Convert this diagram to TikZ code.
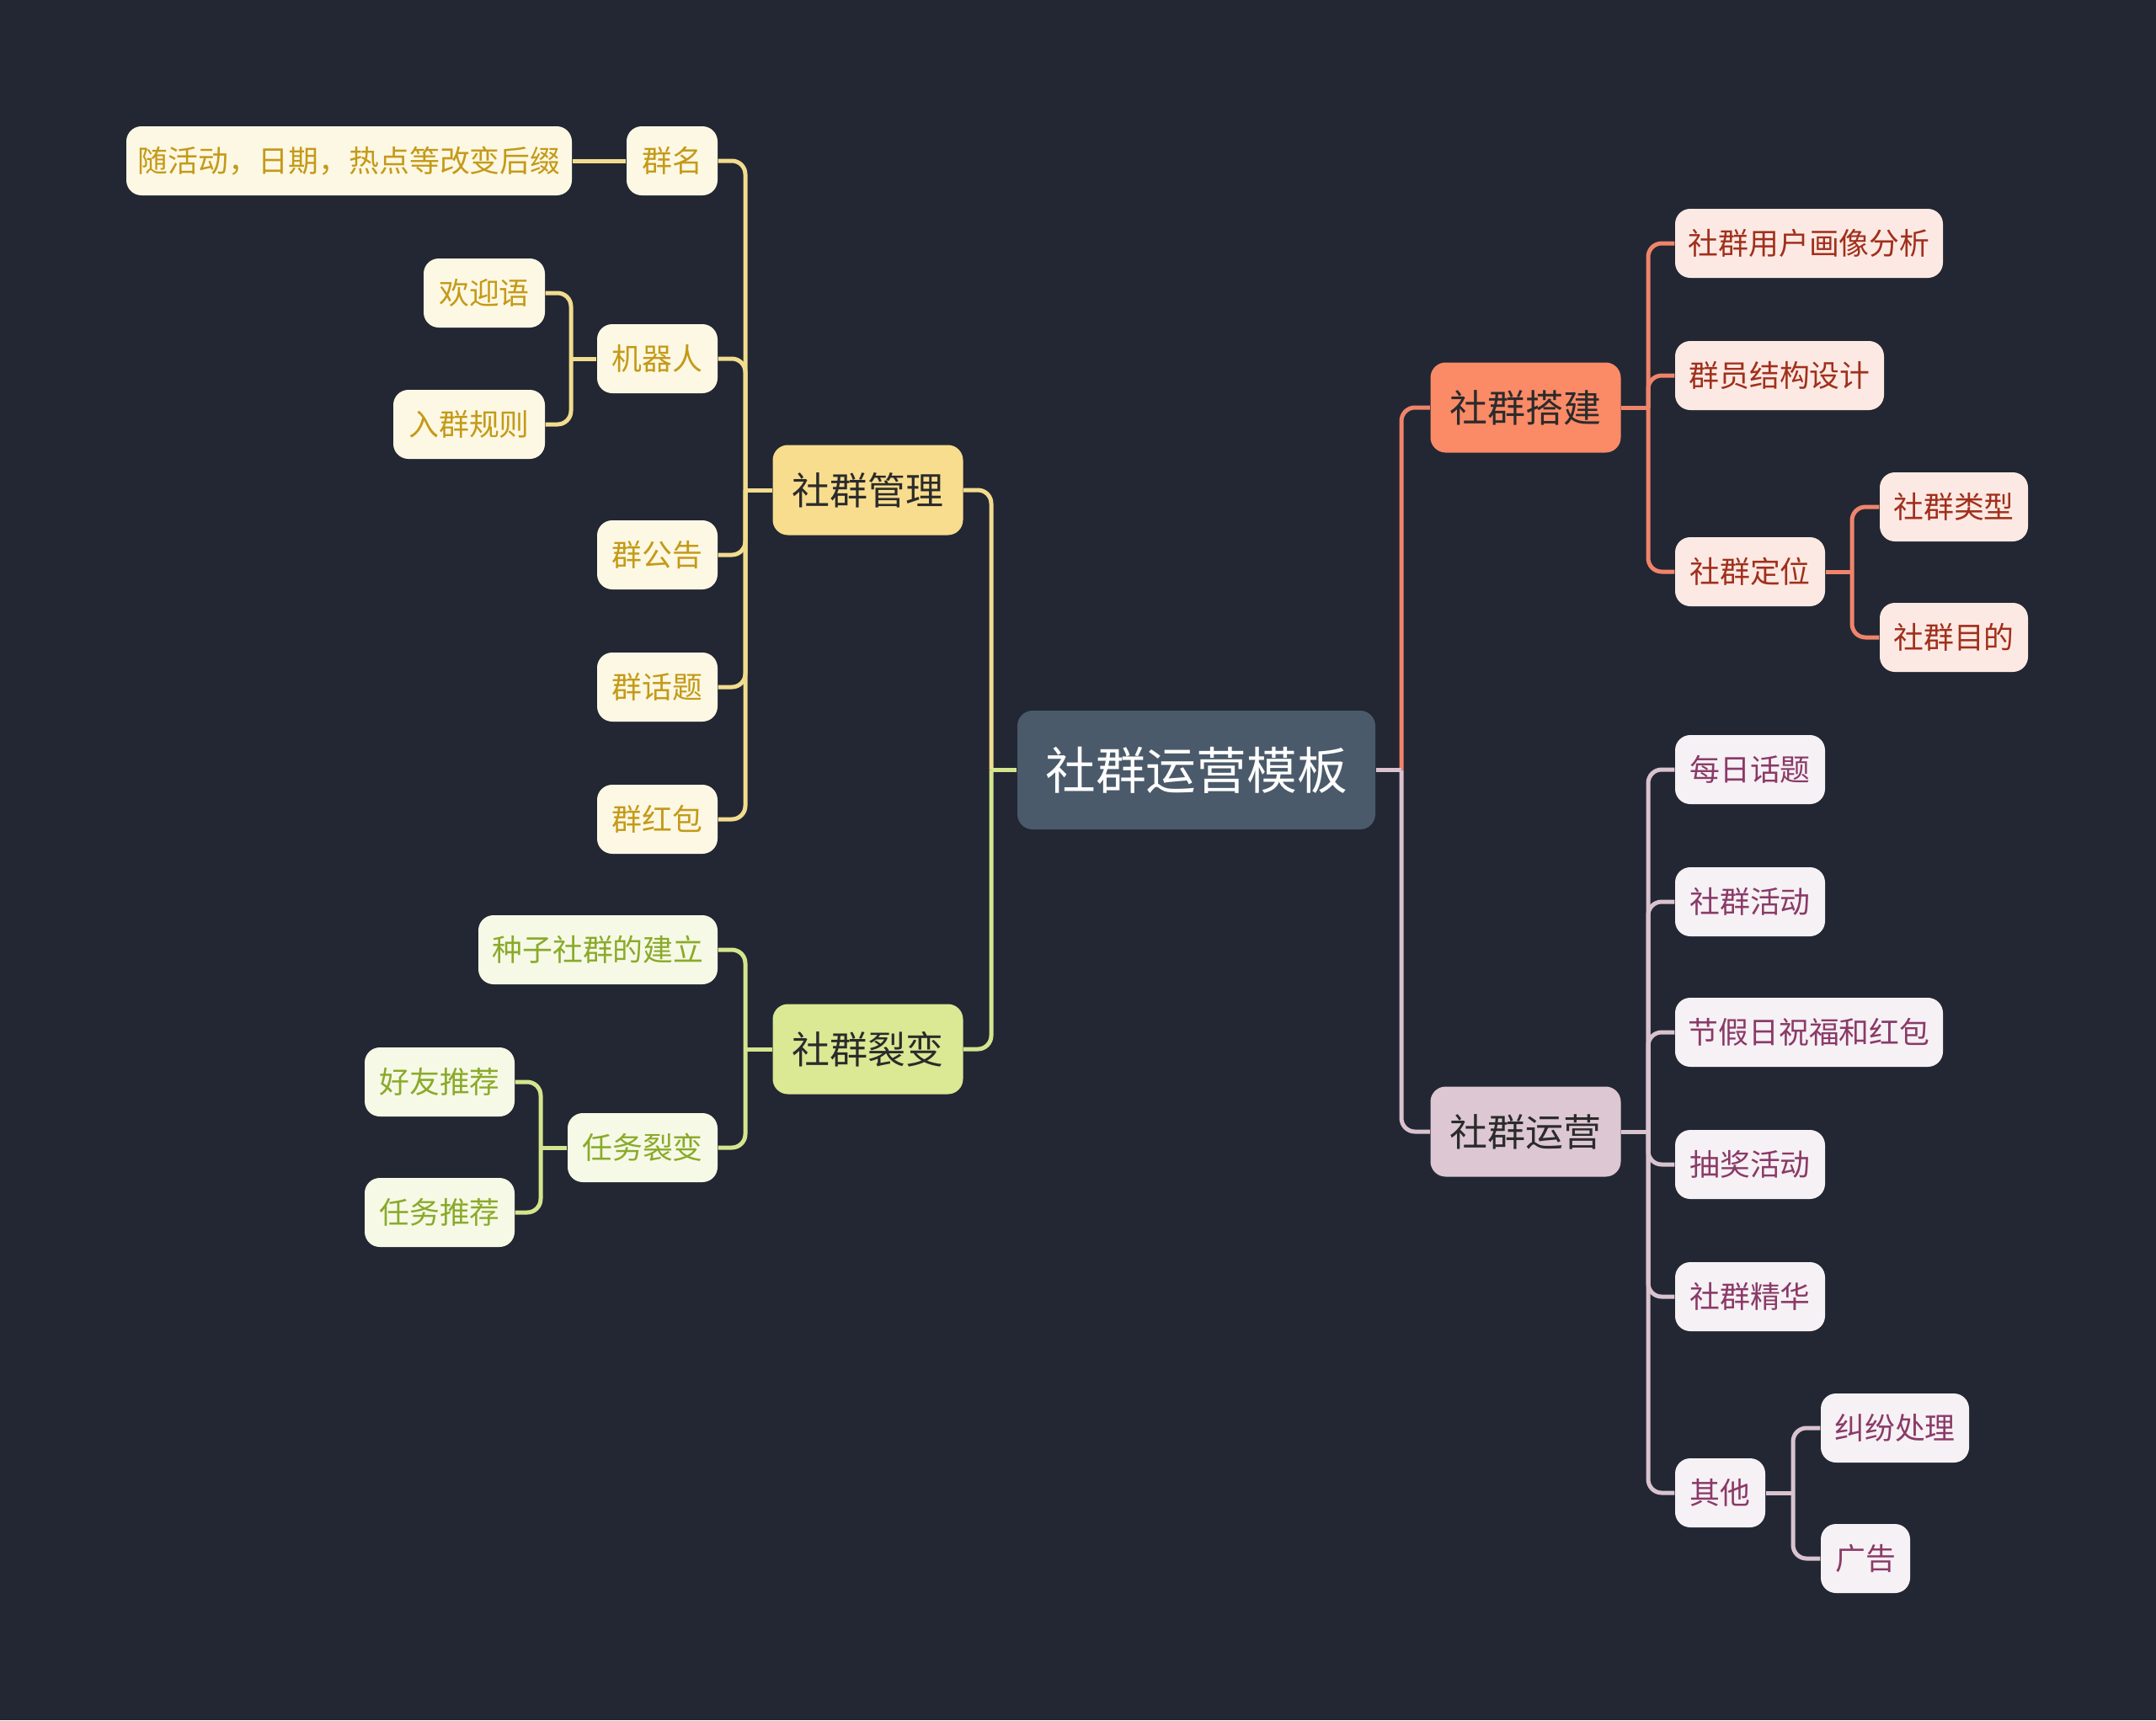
\documentclass[tikz,border=0pt]{standalone}
\usepackage{fontspec}
\setmainfont{Noto Sans CJK SC}
\usetikzlibrary{calc}
\definecolor{bgc}{HTML}{222733}
\definecolor{rootfill}{HTML}{4A5A6A}
\definecolor{maintext}{HTML}{2B2B2B}
\definecolor{Ymain}{HTML}{F8DD8E}
\definecolor{Yleaf}{HTML}{FDF8E4}
\definecolor{Ytext}{HTML}{C49A18}
\definecolor{Yline}{HTML}{F2DC8E}
\definecolor{Gmain}{HTML}{DBE894}
\definecolor{Gleaf}{HTML}{F6F9E6}
\definecolor{Gtext}{HTML}{8AAA2A}
\definecolor{Gline}{HTML}{D5E58E}
\definecolor{Omain}{HTML}{FB8A67}
\definecolor{Oleaf}{HTML}{FDE9E3}
\definecolor{Otext}{HTML}{A0301C}
\definecolor{Oline}{HTML}{F0846A}
\definecolor{Pmain}{HTML}{DCC7D2}
\definecolor{Pleaf}{HTML}{F6F1F4}
\definecolor{Ptext}{HTML}{8A3A68}
\definecolor{Pline}{HTML}{D9C3CF}
\newcommand\brLeft[4]{%
  \draw[conn,#1] (#2.west) -- (#2.west -| #3);
  \draw[conn,#1] (#2.west -| #3) -- (#4.east -| #3) -- (#4.east);}
\newcommand\brRight[4]{%
  \draw[conn,#1] (#2.east) -- (#2.east -| #3);
  \draw[conn,#1] (#2.east -| #3) -- (#4.west -| #3) -- (#4.west);}
\begin{document}
\begin{tikzpicture}[
  box/.style={rounded corners=0.18cm, inner sep=0pt, align=center},
  leaf/.style={box, minimum height=0.82cm, font=\fontsize{10.2}{12}\selectfont},
  mainb/.style={box, minimum width=2.26cm, minimum height=1.07cm, font=\fontsize{12.8}{15}\selectfont, text=maintext},
  rootb/.style={box, fill=rootfill, text=white, minimum width=4.25cm, minimum height=1.41cm, font=\fontsize{17}{20}\selectfont},
  lfY/.style={leaf, fill=Yleaf, text=Ytext},
  lfG/.style={leaf, fill=Gleaf, text=Gtext},
  lfO/.style={leaf, fill=Oleaf, text=Otext},
  lfP/.style={leaf, fill=Pleaf, text=Ptext},
  conn/.style={line width=0.05cm, rounded corners=0.16cm},
]
\fill[bgc] (0,0) rectangle (25.6,-20.43);
\useasboundingbox (0,0) rectangle (25.6,-20.43);

% root and main branches
\node[rootb] (root) at (14.205,-9.145) {社群运营模板};
\node[mainb, fill=Ymain] (gl) at (10.305,-5.82) {社群管理};
\node[mainb, fill=Gmain] (lb) at (10.305,-12.46) {社群裂变};
\node[mainb, fill=Omain] (dj) at (18.115,-4.84) {社群搭建};
\node[mainb, fill=Pmain] (yy) at (18.115,-13.44) {社群运营};

% yellow leaves
\node[lfY, minimum width=1.08cm] (qm) at (7.98,-1.91) {群名};
\node[lfY, minimum width=5.29cm] (sui) at (4.145,-1.91) {随活动，日期，热点等改变后缀};
\node[lfY, minimum width=1.43cm] (jqr) at (7.805,-4.26) {机器人};
\node[lfY, minimum width=1.44cm] (hyy) at (5.75,-3.48) {欢迎语};
\node[lfY, minimum width=1.80cm] (rqgz) at (5.57,-5.04) {入群规则};
\node[lfY, minimum width=1.43cm] (qgg) at (7.805,-6.59) {群公告};
\node[lfY, minimum width=1.43cm] (qht) at (7.805,-8.16) {群话题};
\node[lfY, minimum width=1.43cm] (qhb) at (7.805,-9.73) {群红包};

% green leaves
\node[lfG, minimum width=2.84cm] (zz) at (7.10,-11.28) {种子社群的建立};
\node[lfG, minimum width=1.78cm] (rwlb) at (7.63,-13.63) {任务裂变};
\node[lfG, minimum width=1.78cm] (hytj) at (5.22,-12.85) {好友推荐};
\node[lfG, minimum width=1.78cm] (rwtj) at (5.22,-14.40) {任务推荐};

% orange leaves
\node[lfO, minimum width=3.18cm] (hx) at (21.48,-2.89) {社群用户画像分析};
\node[lfO, minimum width=2.48cm] (jg) at (21.13,-4.46) {群员结构设计};
\node[lfO, minimum width=1.78cm] (dw) at (20.78,-6.79) {社群定位};
\node[lfO, minimum width=1.76cm] (lx) at (23.20,-6.02) {社群类型};
\node[lfO, minimum width=1.76cm] (md) at (23.20,-7.57) {社群目的};

% pink leaves
\node[lfP, minimum width=1.78cm] (mr) at (20.78,-9.14) {每日话题};
\node[lfP, minimum width=1.78cm] (hd) at (20.78,-10.71) {社群活动};
\node[lfP, minimum width=3.18cm] (jjr) at (21.48,-12.26) {节假日祝福和红包};
\node[lfP, minimum width=1.78cm] (cj) at (20.78,-13.83) {抽奖活动};
\node[lfP, minimum width=1.78cm] (jh) at (20.78,-15.40) {社群精华};
\node[lfP, minimum width=1.07cm] (qt) at (20.425,-17.73) {其他};
\node[lfP, minimum width=1.76cm] (jf) at (22.50,-16.96) {纠纷处理};
\node[lfP, minimum width=1.06cm] (gg) at (22.15,-18.51) {广告};

% spine positions
\coordinate (s0L) at (11.77,0);
\coordinate (s0R) at (16.64,0);
\coordinate (s1) at (8.85,0);
\coordinate (s2) at (6.78,0);
\coordinate (s4) at (6.42,0);
\coordinate (s5) at (19.57,0);
\coordinate (s6) at (21.99,0);
\coordinate (s7) at (21.29,0);

% root connectors
\brLeft{Yline}{root}{s0L}{gl}
\brLeft{Gline}{root}{s0L}{lb}
\brRight{Oline}{root}{s0R}{dj}
\brRight{Pline}{root}{s0R}{yy}

% yellow branch
\brLeft{Yline}{gl}{s1}{qm}
\brLeft{Yline}{gl}{s1}{jqr}
\brLeft{Yline}{gl}{s1}{qgg}
\brLeft{Yline}{gl}{s1}{qht}
\brLeft{Yline}{gl}{s1}{qhb}
\draw[conn,Yline] (qm.west) -- (sui.east);
\brLeft{Yline}{jqr}{s2}{hyy}
\brLeft{Yline}{jqr}{s2}{rqgz}

% green branch
\brLeft{Gline}{lb}{s1}{zz}
\brLeft{Gline}{lb}{s1}{rwlb}
\brLeft{Gline}{rwlb}{s4}{hytj}
\brLeft{Gline}{rwlb}{s4}{rwtj}

% orange branch
\brRight{Oline}{dj}{s5}{hx}
\brRight{Oline}{dj}{s5}{jg}
\brRight{Oline}{dj}{s5}{dw}
\brRight{Oline}{dw}{s6}{lx}
\brRight{Oline}{dw}{s6}{md}

% pink branch
\brRight{Pline}{yy}{s5}{mr}
\brRight{Pline}{yy}{s5}{hd}
\brRight{Pline}{yy}{s5}{jjr}
\brRight{Pline}{yy}{s5}{cj}
\brRight{Pline}{yy}{s5}{jh}
\brRight{Pline}{yy}{s5}{qt}
\brRight{Pline}{qt}{s7}{jf}
\brRight{Pline}{qt}{s7}{gg}
\end{tikzpicture}
\end{document}
